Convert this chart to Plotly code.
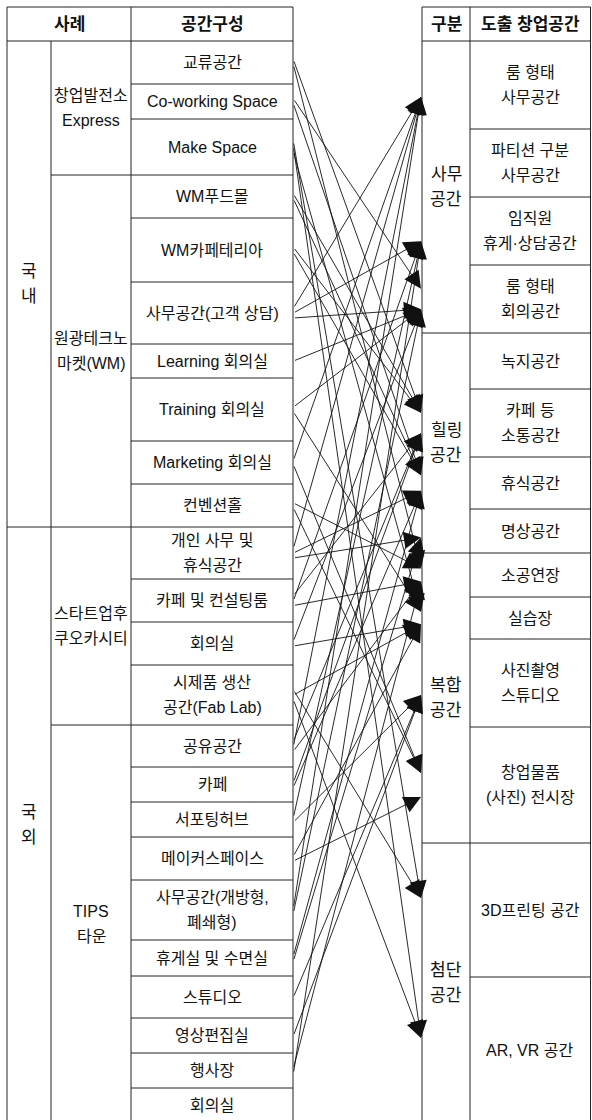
import plotly.graph_objects as go
from collections import defaultdict

W, H = 592, 1120
FONT = "Liberation Sans, Noto Sans CJK KR, sans-serif"

# ---------------- data ----------------
left_labels = ["교류공간", "Co-working Space", "Make Space", "WM푸드몰", "WM카페테리아",
               "사무공간(고객 상담)", "Learning 회의실", "Training 회의실", "Marketing 회의실", "컨벤션홀",
               "개인 사무 및<br>휴식공간", "카페 및 컨설팅룸", "회의실", "시제품 생산<br>공간(Fab Lab)",
               "공유공간", "카페", "서포팅허브", "메이커스페이스", "사무공간(개방형,<br>폐쇄형)",
               "휴게실 및 수면실", "스튜디오", "영상편집실", "행사장", "회의실"]
left_row_units = [43, 35, 56, 43, 64, 62, 34, 63, 43, 43, 52, 43, 43, 60,
                  42, 35, 35, 43, 60, 36, 42, 35, 35, 35]
case_labels = ["창업발전소<br>Express", "원광테크노<br>마켓(WM)", "스타트업후<br>쿠오카시티", "TIPS<br>타운"]
case_rows = [3, 7, 4, 10]
region_labels = ["국<br>내", "국<br>외"]
region_rows = [10, 14]

right_labels = ["룸 형태<br>사무공간", "파티션 구분<br>사무공간", "임직원<br>휴게·상담공간", "룸 형태<br>회의공간",
                "녹지공간", "카페 등<br>소통공간", "휴식공간", "명상공간",
                "소공연장", "실습장", "사진촬영<br>스튜디오", "창업물품<br>(사진) 전시장",
                "3D프린팅 공간", "AR, VR 공간"]
right_row_units = [88, 68, 68, 68, 56, 68, 52, 44, 44, 42, 88, 116, 134, 146]
group_labels = ["사무<br>공간", "힐링<br>공간", "복합<br>공간", "첨단<br>공간"]
group_rows = [4, 4, 4, 2]

left_headers = ["사례", "공간구성"]
right_headers = ["구분", "도출 창업공간"]

# (left row index, right row index)
links = [(0, 5), (0, 8), (1, 3), (1, 6), (2, 12), (2, 13), (2, 9), (3, 5), (3, 6),
         (4, 5), (4, 6), (5, 0), (5, 2), (5, 3), (6, 3), (7, 3), (7, 9), (8, 0), (8, 11),
         (9, 8), (9, 11), (10, 0), (10, 6), (10, 7), (11, 5), (11, 2), (11, 8), (12, 3),
         (12, 9), (13, 12), (13, 9), (13, 13), (14, 5), (14, 0), (14, 8), (15, 5), (15, 6),
         (16, 2), (16, 10), (17, 9), (17, 11), (18, 0), (18, 3), (19, 6), (19, 7),
         (20, 10), (21, 10), (22, 8), (22, 2)]

# ---------------- layout geometry ----------------
TOP, HEAD_B = 7, 41
LX = [7, 51, 131, 293]
RX = [422, 470, 590.5]
LINE_H = 25
LINE_C = "#222"

def bounds(units, start):
    b = [start]
    for u in units:
        b.append(b[-1] + u)
    return b

lb = bounds(left_row_units, HEAD_B)
rb = bounds(right_row_units, HEAD_B)

def span_bounds(counts, rowb):
    out, i = [], 0
    for c in counts:
        out.append((rowb[i], rowb[i + c]))
        i += c
    return out

case_b = span_bounds(case_rows, lb)
region_b = span_bounds(region_rows, lb)
group_b = span_bounds(group_rows, rb)

shapes = []
def hline(y, x0, x1, w=1):
    shapes.append(dict(type="line", x0=x0, x1=x1, y0=y, y1=y, xref="x", yref="y",
                       line=dict(color=LINE_C, width=w)))
def vline(x, y0, y1, w=1):
    shapes.append(dict(type="line", x0=x, x1=x, y0=y0, y1=y1, xref="x", yref="y",
                       line=dict(color=LINE_C, width=w)))

bottom = lb[-1]
# left table
hline(TOP, LX[0], LX[3]); hline(HEAD_B, LX[0], LX[3])
vline(LX[0], TOP, bottom); vline(LX[3], TOP, bottom); vline(LX[2], TOP, bottom)
vline(LX[1], HEAD_B, bottom)
for y in lb[1:-1]:
    hline(y, LX[2], LX[3])
for (a, b) in case_b[:-1]:
    hline(b, LX[1], LX[2])
for (a, b) in region_b[:-1]:
    hline(b, LX[0], LX[1])
# right table
rbottom = rb[-1]
hline(TOP, RX[0], RX[2]); hline(HEAD_B, RX[0], RX[2])
vline(RX[0], TOP, rbottom); vline(RX[1], TOP, rbottom); vline(RX[2], TOP, rbottom)
for y in rb[1:-1]:
    hline(y, RX[1], RX[2])
for (a, b) in group_b[:-1]:
    hline(b, RX[0], RX[1])

annotations = []
def text(label, x, yc, size=16, bold=False):
    parts = label.split("<br>")
    n = len(parts)
    for k, p in enumerate(parts):
        y = yc + (k - (n - 1) / 2) * LINE_H
        annotations.append(dict(x=x, y=y, xref="x", yref="y", text=(f"<b>{p}</b>" if bold else p),
                                showarrow=False, xanchor="center", yanchor="middle",
                                font=dict(family=FONT, size=size, color="#111")))

text(left_headers[0], (LX[0] + LX[2]) / 2, (TOP + HEAD_B) / 2, size=17, bold=True)
text(left_headers[1], (LX[2] + LX[3]) / 2, (TOP + HEAD_B) / 2, size=17, bold=True)
text(right_headers[0], (RX[0] + RX[1]) / 2, (TOP + HEAD_B) / 2, size=17, bold=True)
text(right_headers[1], (RX[1] + RX[2]) / 2, (TOP + HEAD_B) / 2, size=17, bold=True)

for i, lab in enumerate(left_labels):
    text(lab, (LX[2] + LX[3]) / 2, (lb[i] + lb[i + 1]) / 2)
for lab, (a, b) in zip(case_labels, case_b):
    text(lab, (LX[1] + LX[2]) / 2, (a + b) / 2)
for lab, (a, b) in zip(region_labels, region_b):
    text(lab, (LX[0] + LX[1]) / 2, (a + b) / 2, size=17)
for i, lab in enumerate(right_labels):
    text(lab, (RX[1] + RX[2]) / 2, (rb[i] + rb[i + 1]) / 2)
for lab, (a, b) in zip(group_labels, group_b):
    text(lab, (RX[0] + RX[1]) / 2, (a + b) / 2, size=17)

# arrows
src_count = defaultdict(int)
for s, t in links:
    src_count[s] += 1
src_seen = defaultdict(int)
for s, t in links:
    sc = (lb[s] + lb[s + 1]) / 2
    k = src_seen[s]; src_seen[s] += 1
    sy = sc + (k - (src_count[s] - 1) / 2) * 5
    tc = (rb[t] + rb[t + 1]) / 2
    th = rb[t + 1] - rb[t]
    d = min(12, 0.15 * th)
    ty = tc - d if sy < tc else tc + d
    annotations.append(dict(x=RX[0] - 1, y=ty, ax=LX[3] + 0.5, ay=sy, xref="x", yref="y",
                            axref="x", ayref="y", text="", showarrow=True, arrowhead=2,
                            arrowsize=3.8, arrowwidth=0.9, arrowcolor="#111", standoff=0))

fig = go.Figure()
fig.update_layout(width=W, height=H, margin=dict(l=0, r=0, t=0, b=0),
                  paper_bgcolor="white", plot_bgcolor="white",
                  xaxis=dict(range=[0, W], visible=False, fixedrange=True),
                  yaxis=dict(range=[H, 0], visible=False, fixedrange=True),
                  shapes=shapes, annotations=annotations, showlegend=False)
fig.write_html("out.html", config={"displayModeBar": False},
               post_script="document.body.style.margin='0';document.body.style.overflow='hidden';")
